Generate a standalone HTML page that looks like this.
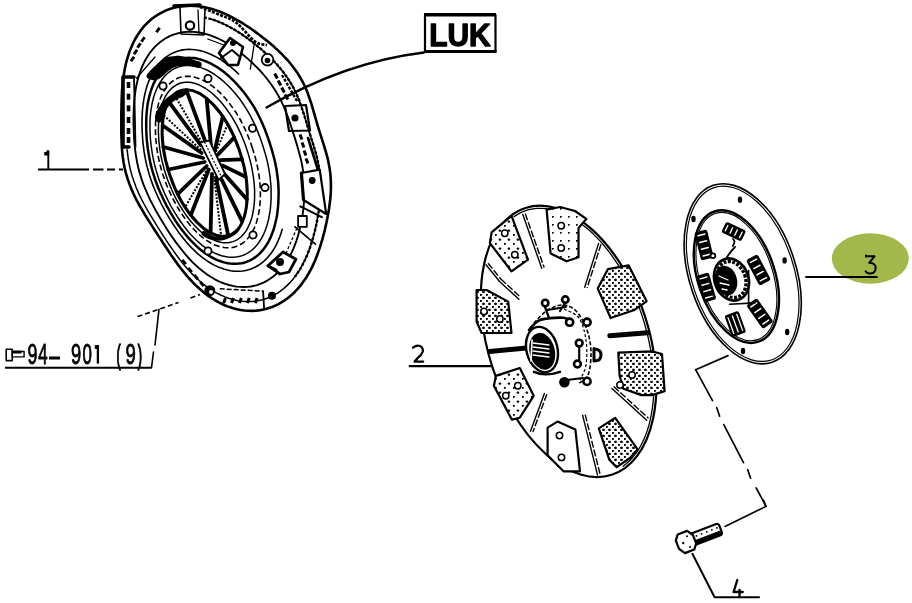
<!DOCTYPE html>
<html><head><meta charset="utf-8"><style>
html,body{margin:0;padding:0;background:#fff;width:912px;height:603px;overflow:hidden}
svg{display:block;position:absolute;left:0;top:0;will-change:transform}
</style></head><body>
<svg width="912" height="603" viewBox="0 0 912 603" fill="none" stroke="#000" stroke-linecap="round" stroke-linejoin="round">
<g id="pp">
<path d="M317.6 125.4 L319.2 130.6 L320.9 135.8 L322.6 141.1 L324.2 146.3 L325.8 151.6 L327.3 157.0 L328.5 162.4 L329.5 167.8 L330.3 173.1 L330.7 178.4 L330.9 183.7 L330.9 188.8 L330.7 193.9 L330.3 198.8 L329.7 203.7 L329.1 208.4 L328.3 213.0 L327.5 217.6 L326.6 222.0 L325.6 226.4 L324.6 230.8 L323.5 235.0 L322.4 239.2 L321.1 243.4 L319.9 247.4 L318.5 251.4 L317.1 255.3 L315.6 259.2 L314.0 262.9 L312.3 266.6 L310.5 270.1 L308.6 273.5 L306.6 276.9 L304.5 280.0 L302.3 283.1 L300.0 286.1 L297.6 288.8 L295.2 291.5 L292.6 294.0 L289.9 296.4 L287.2 298.5 L284.3 300.6 L281.4 302.4 L278.4 304.1 L275.3 305.6 L272.1 307.0 L268.9 308.1 L265.6 309.1 L262.2 309.8 L258.7 310.4 L255.2 310.7 L251.7 310.9 L248.1 310.8 L244.4 310.5 L240.8 310.0 L237.0 309.3 L233.3 308.3 L229.6 307.1 L225.8 305.7 L222.1 304.0 L218.3 302.1 L214.6 300.0 L210.9 297.6 L207.2 295.1 L203.6 292.3 L200.1 289.3 L196.6 286.1 L193.1 282.7 L189.8 279.1 L186.5 275.4 L183.4 271.6 L180.3 267.7 L177.2 263.6 L174.3 259.5 L171.4 255.4 L168.6 251.2 L165.8 247.0 L163.0 242.8 L160.3 238.6 L157.5 234.4 L154.8 230.2 L152.0 225.9 L149.3 221.6 L146.5 217.2 L143.8 212.8 L141.1 208.2 L138.4 203.5 L135.9 198.8 L133.5 193.8 L131.3 188.8 L129.3 183.6 L127.5 178.4 L125.9 173.1 L124.6 167.7 L123.6 162.4 L122.8 157.0 L122.2 151.7 L121.8 146.4 L121.6 141.2 L121.4 136.1 L121.3 131.0 L121.3 126.0 L121.3 121.0 L121.3 116.0 L121.4 111.1 L121.5 106.2 L121.6 101.2 L121.8 96.3 L122.0 91.4 L122.4 86.6 L122.9 81.8 L123.4 77.0 L124.2 72.3 L125.0 67.7 L126.0 63.2 L127.2 58.8 L128.5 54.6 L129.9 50.4 L131.6 46.5 L133.3 42.7 L135.2 39.0 L137.3 35.5 L139.5 32.3 L141.8 29.1 L144.2 26.2 L146.8 23.5 L149.4 21.0 L152.2 18.6 L155.1 16.5 L158.0 14.6 L161.1 12.8 L164.2 11.3 L167.3 9.9 L170.6 8.7 L173.9 7.8 L177.3 7.0 L180.7 6.4 L184.1 6.0 L187.6 5.8 L191.1 5.8 L194.7 5.9 L198.3 6.2 L201.8 6.7 L205.5 7.4 L209.1 8.3 L212.7 9.3 L216.4 10.5 L220.0 11.8 L223.6 13.3 L227.3 14.9 L230.9 16.7 L234.5 18.6 L238.1 20.6 L241.7 22.7 L245.3 25.0 L248.9 27.3 L252.4 29.8 L256.0 32.4 L259.6 35.0 L263.1 37.8 L266.7 40.6 L270.3 43.6 L273.8 46.6 L277.4 49.9 L280.9 53.2 L284.4 56.8 L287.9 60.5 L291.2 64.5 L294.4 68.7 L297.5 73.1 L300.4 77.8 L303.1 82.7 L305.5 87.8 L307.7 93.1 L309.6 98.5 L311.4 103.9 L313.0 109.4 L314.5 114.7 L316.1 120.1 L317.6 125.4" stroke-width="2.6" />
<path d="M210.6 19.0 L214.9 20.3 L219.1 22.0 L223.3 23.8 L227.5 25.9 L231.8 28.1 L236.0 30.6 L240.1 33.2 L244.3 36.1 L248.5 39.1 L252.6 42.2 L256.7 45.5 L260.8 49.0 L265.0 52.6 L269.0 56.4 L273.1 60.4 L277.1 64.7 L281.0 69.2 L284.8 74.1 L288.4 79.2 L291.7 84.7 L294.8 90.4 L297.5 96.4 L300.0 102.6 L302.2 108.9 L304.2 115.1 L306.1 121.4 L307.9 127.6 L309.8 133.7 L311.8 139.9 L313.7 146.0 L315.5 152.3 L317.2 158.5 L318.5 164.8 L319.6 171.1 L320.2 177.4 L320.6 183.5 L320.6 189.6 L320.4 195.4 L319.9 201.2 L319.3 206.8 L318.5 212.3 L317.6 217.7 L316.6 222.9 L315.5 228.1 L314.3 233.1 L313.0 238.1 L311.5 242.9 L310.0 247.6 L308.3 252.2 L306.5 256.6 L304.5 260.9 L302.4 265.0 L300.1 269.0 L297.7 272.8 L295.2 276.4 L292.5 279.7 L289.7 282.9 L286.7 285.9 L283.6 288.6 L280.4 291.1 L277.1 293.3 L273.6 295.3 L270.0 297.0 L266.3 298.5 L262.5 299.7 L258.6 300.6 L254.6 301.2 L250.6 301.5 L246.4 301.5 L242.2 301.2 L238.0 300.7 L233.7 299.7 L229.3 298.5 L225.0 296.9 L220.6 295.0 L216.3 292.8 L212.0 290.3 L207.7 287.4 L203.5 284.3 L199.4 280.8 L195.3 277.1 L191.3 273.1 L187.5 268.9 L183.7 264.5 L180.1 259.9 L176.6 255.2 L173.1 250.4 L169.7 245.5 L166.4 240.6 L163.2 235.6 L160.0 230.6 L156.8 225.6 L153.6 220.4 L150.4 215.2 L147.3 209.9 L144.3 204.5 L141.3 198.8 L138.6 193.1 L136.0 187.1 L133.8 181.1 L131.8 174.9 L130.1 168.6 L128.8 162.3 L127.9 156.1 L127.1 149.8" stroke-width="1.5" />
<path d="M203.9 17.3 L208.2 18.3 L212.4 19.5 L216.7 21.0 L221.0 22.8 L225.3 24.7 L229.6 26.9 L233.8 29.3 L238.1 31.9 L242.3 34.7 L246.5 37.6 L250.7 40.7 L254.9 44.0 L259.1 47.4 L263.2 51.0 L267.4 54.8 L271.5 58.8 L275.6 63.0 L279.6 67.5 L283.4 72.3 L287.1 77.4 L290.6 82.8 L293.8 88.5 L296.7 94.5 L299.3 100.7 L301.5 107.1 L303.6 113.4 L305.6 119.8 L307.5 126.0 L309.4 132.3 L311.3 138.5 L313.3 144.7 L315.2 151.0 L316.9 157.3 L318.3 163.7 L319.4 170.1 L320.2 176.4 L320.6 182.7 L320.6 188.8 L320.4 194.8 L320.0 200.6 L319.4 206.3 L318.6 211.9 L317.7 217.3 L316.7 222.7 L315.6 227.9 L314.3 233.0 L313.0 238.0 L311.5 242.9 L310.0 247.6 L308.2 252.3 L306.4 256.8 L304.4 261.1 L302.3 265.3 L300.0 269.3 L297.5 273.1 L295.0 276.7" stroke-width="2.4" stroke-dasharray="3 1.6" stroke-linecap="butt"/>
<path d="M293.4 133.4 L295.1 138.9 L296.8 144.4 L298.4 149.9 L299.9 155.5 L301.3 161.1 L302.4 166.7 L303.3 172.3 L303.9 177.8 L304.3 183.3 L304.5 188.7 L304.4 194.0 L304.2 199.2 L303.8 204.2 L303.3 209.2 L302.7 214.1 L301.9 218.9 L301.0 223.5 L300.0 228.1 L298.9 232.5 L297.7 236.9 L296.3 241.1 L294.8 245.1 L293.2 249.1 L291.5 252.9 L289.6 256.5 L287.6 259.9 L285.5 263.2 L283.2 266.3 L280.8 269.2 L278.3 272.0 L275.7 274.5 L272.9 276.8 L270.1 278.8 L267.1 280.7 L264.0 282.3 L260.9 283.7 L257.6 284.9 L254.3 285.8 L250.9 286.5 L247.4 286.9 L243.8 287.0 L240.2 286.9 L236.5 286.6 L232.8 285.9 L229.1 285.0 L225.3 283.9 L221.5 282.5 L217.8 280.8 L214.0 278.8 L210.2 276.5 L206.5 274.1 L202.8 271.3 L199.1 268.3 L195.6 265.1 L192.0 261.7 L188.6 258.0 L185.2 254.2 L182.0 250.2 L178.8 246.1 L175.6 241.9 L172.6 237.6 L169.6 233.2 L166.7 228.7 L163.8 224.1 L161.0 219.5 L158.2 214.8 L155.5 210.0 L152.9 205.1 L150.3 200.1 L147.9 194.9 L145.6 189.7 L143.4 184.4 L141.5 178.9 L139.8 173.4 L138.3 167.8 L137.1 162.2 L136.1 156.6 L135.3 151.1 L134.7 145.6 L134.2 140.1 L133.9 134.7 L133.7 129.4 L133.5 124.1 L133.5 118.9 L133.6 113.7 L133.8 108.5 L134.1 103.5 L134.5 98.5 L135.1 93.5 L135.8 88.7 L136.7 84.0 L137.8 79.4 L139.1 75.0 L140.5 70.8 L142.1 66.7 L143.9 62.8 L145.8 59.2 L147.9 55.7 L150.2 52.4 L152.6 49.4 L155.1 46.6 L157.8 44.1 L160.6 41.7 L163.5 39.7 L166.5 37.8 L169.6 36.2 L172.8 34.9 L176.0 33.8 L179.4 32.9 L182.8 32.3 L186.3 31.9 L189.8 31.7 L193.4 31.9 L197.0 32.2 L200.7 32.8 L204.4 33.6 L208.1 34.6 L211.8 35.9 L215.5 37.4 L219.2 39.0 L222.9 40.9 L226.6 43.0 L230.3 45.3 L234.0 47.8 L237.7 50.4 L241.3 53.2 L244.9 56.2 L248.5 59.4 L252.1 62.7 L255.6 66.1 L259.1 69.7 L262.6 73.5 L266.0 77.5 L269.3 81.8 L272.5 86.2 L275.6 90.9 L278.4 95.7 L281.1 100.8 L283.6 106.1 L285.8 111.5 L287.9 117.0 L289.8 122.4 L291.6 127.9 L293.4 133.4" stroke-width="1.9" />
<path d="M282.2 229.3 L281.1 233.0 L279.9 236.5 L278.5 239.9 L277.1 243.2 L275.5 246.3 L273.8 249.2 L272.0 252.0 L270.1 254.6 L268.0 257.1 L265.9 259.3 L263.7 261.4 L261.3 263.3 L258.9 265.0 L256.4 266.5 L253.8 267.8 L251.1 268.9 L248.4 269.8 L245.6 270.5 L242.7 271.0 L239.7 271.2 L236.7 271.2 L233.7 271.1 L230.6 270.7 L227.5 270.0 L224.4 269.2 L221.2 268.1 L218.0 266.9 L214.8 265.4 L211.7 263.7 L208.5 261.8 L205.3 259.6 L202.2 257.3 L199.1 254.8 L196.0 252.1 L193.0 249.2 L190.0 246.1 L187.1 242.9 L184.3 239.5 L181.5 236.0 L178.7 232.4 L176.1 228.6 L173.5 224.7 L170.9 220.8 L168.5 216.8 L166.0 212.6 L163.7 208.4 L161.4 204.1 L159.3 199.7 L157.2 195.3 L155.2 190.7 L153.3 186.1 L151.5 181.4 L149.9 176.6 L148.5 171.8 L147.2 167.0 L146.0 162.1 L145.1 157.3 L144.2 152.5 L143.6 147.7 L143.0 142.9 L142.6 138.2 L142.3 133.5 L142.1 128.9 L142.0 124.3 L142.0 119.8 L142.2 115.3 L142.4 110.9 L142.8 106.6 L143.4 102.4 L144.0 98.3 L144.8 94.3 L145.8 90.4 L146.8 86.6 L148.1 83.0 L149.4 79.6 L150.9 76.3 L152.5 73.1 L154.2 70.2 L156.1 67.4 L158.1 64.8 L160.2 62.4 L162.3 60.2 L164.6 58.2 L167.0 56.4 L169.5 54.8 L172.1 53.4 L174.7 52.2 L177.4 51.2 L180.2 50.4 L183.1 49.9 L186.0 49.5 L188.9 49.4 L191.9 49.5 L195.0 49.7 L198.1 50.2 L201.2 50.9 L204.3 51.8 L207.4 52.9 L210.6 54.2 L213.7 55.7 L216.9 57.4 L220.1 59.2 L223.2 61.3 L226.3 63.5 L229.4 65.9 L232.5 68.4 L235.6 71.1 L238.6 74.0" stroke-width="1.6" />
<path d="M269.2 141.5 L270.6 145.9 L272.0 150.4 L273.2 154.8 L274.4 159.3 L275.4 163.8 L276.3 168.3 L277.0 172.8 L277.6 177.3 L278.1 181.7 L278.4 186.1 L278.6 190.4 L278.6 194.6 L278.5 198.8 L278.3 202.9 L278.0 206.9 L277.6 210.8 L277.1 214.7 L276.4 218.4 L275.6 222.0 L274.7 225.6 L273.8 229.0 L272.6 232.2 L271.4 235.4 L270.1 238.4 L268.7 241.3 L267.1 244.0 L265.5 246.5 L263.7 248.9 L261.9 251.2 L259.9 253.3 L257.9 255.2 L255.8 256.9 L253.6 258.4 L251.3 259.8 L248.9 260.9 L246.5 261.9 L244.0 262.7 L241.4 263.3 L238.8 263.6 L236.1 263.8 L233.4 263.8 L230.6 263.6 L227.8 263.2 L225.0 262.6 L222.1 261.8 L219.2 260.8 L216.3 259.6 L213.4 258.2 L210.5 256.6 L207.6 254.8 L204.8 252.9 L201.9 250.7 L199.0 248.4 L196.2 245.9 L193.5 243.2 L190.7 240.4 L188.0 237.4 L185.4 234.3 L182.8 231.0 L180.3 227.7 L177.8 224.2 L175.4 220.6 L173.1 216.9 L170.8 213.1 L168.6 209.2 L166.4 205.3 L164.4 201.2 L162.4 197.1 L160.5 192.9 L158.6 188.7 L156.9 184.4 L155.3 180.0 L153.9 175.6 L152.5 171.1 L151.3 166.6 L150.2 162.1 L149.3 157.6 L148.5 153.1 L147.8 148.7 L147.3 144.2 L146.8 139.8 L146.5 135.5 L146.3 131.2 L146.2 126.9 L146.2 122.7 L146.3 118.6 L146.5 114.5 L146.9 110.5 L147.3 106.6 L147.9 102.8 L148.7 99.1 L149.5 95.6 L150.5 92.1 L151.6 88.8 L152.8 85.6 L154.1 82.6 L155.6 79.7 L157.2 77.0 L158.8 74.4 L160.6 72.0 L162.5 69.8 L164.5 67.8 L166.5 65.9 L168.7 64.3 L170.9 62.8 L173.2 61.5 L175.6 60.4 L178.1 59.5 L180.6 58.8 L183.2 58.3 L185.8 57.9 L188.5 57.8 L191.3 57.9 L194.0 58.1 L196.8 58.6 L199.7 59.2 L202.5 60.1 L205.4 61.1 L208.3 62.3 L211.1 63.7 L214.0 65.3 L216.9 67.0 L219.8 69.0 L222.7 71.1 L225.5 73.3 L228.3 75.7 L231.1 78.3 L233.9 81.0 L236.6 83.9 L239.3 86.9 L242.0 90.0 L244.6 93.3 L247.1 96.7 L249.6 100.2 L252.0 103.9 L254.4 107.7 L256.6 111.6 L258.7 115.7 L260.7 119.8 L262.6 124.1 L264.4 128.3 L266.1 132.7 L267.7 137.1 L269.2 141.5" stroke-width="2.5" />
<path d="M262.2 143.8 L263.5 147.9 L264.8 152.1 L266.0 156.3 L267.0 160.4 L268.0 164.6 L268.8 168.8 L269.5 173.0 L270.1 177.1 L270.5 181.2 L270.9 185.3 L271.1 189.3 L271.1 193.3 L271.1 197.2 L271.0 201.0 L270.7 204.7 L270.4 208.4 L269.9 211.9 L269.3 215.4 L268.7 218.8 L267.9 222.1 L267.0 225.2 L266.0 228.3 L264.9 231.2 L263.7 234.0 L262.4 236.6 L261.0 239.1 L259.5 241.5 L258.0 243.7 L256.3 245.8 L254.5 247.7 L252.7 249.4 L250.8 251.0 L248.8 252.4 L246.7 253.6 L244.5 254.7 L242.3 255.6 L240.0 256.3 L237.7 256.8 L235.3 257.1 L232.9 257.3 L230.4 257.3 L227.9 257.0 L225.3 256.6 L222.7 256.1 L220.1 255.3 L217.5 254.3 L214.8 253.2 L212.2 251.9 L209.5 250.4 L206.9 248.7 L204.2 246.8 L201.6 244.8 L199.0 242.6 L196.4 240.3 L193.9 237.8 L191.4 235.2 L188.9 232.4 L186.5 229.5 L184.1 226.5 L181.8 223.3 L179.5 220.0 L177.3 216.7 L175.1 213.2 L173.0 209.7 L170.9 206.1 L169.0 202.4 L167.1 198.6 L165.2 194.7 L163.5 190.8 L161.8 186.9 L160.2 182.8 L158.7 178.7 L157.4 174.6 L156.1 170.4 L155.0 166.3 L154.0 162.1 L153.1 157.9 L152.3 153.7 L151.7 149.6 L151.1 145.4 L150.7 141.3 L150.3 137.3 L150.1 133.3 L150.0 129.3 L150.0 125.4 L150.0 121.5 L150.2 117.8 L150.5 114.1 L150.9 110.5 L151.5 106.9 L152.1 103.5 L152.9 100.2 L153.7 97.0 L154.7 93.9 L155.8 91.0 L157.0 88.2 L158.3 85.5 L159.7 83.0 L161.2 80.7 L162.8 78.5 L164.5 76.4 L166.3 74.5 L168.2 72.8 L170.1 71.3 L172.2 69.9 L174.3 68.7 L176.4 67.7 L178.7 66.9 L181.0 66.2 L183.3 65.8 L185.7 65.5 L188.2 65.4 L190.6 65.5 L193.2 65.7 L195.7 66.2 L198.3 66.8 L200.9 67.6 L203.5 68.6 L206.2 69.7 L208.8 71.0 L211.4 72.5 L214.1 74.2 L216.7 76.0 L219.3 77.9 L222.0 80.1 L224.5 82.3 L227.1 84.7 L229.7 87.3 L232.2 90.0 L234.6 92.8 L237.1 95.7 L239.5 98.8 L241.8 102.0 L244.1 105.3 L246.3 108.8 L248.4 112.3 L250.5 116.0 L252.4 119.8 L254.3 123.6 L256.1 127.6 L257.7 131.6 L259.3 135.6 L260.8 139.7 L262.2 143.8" stroke-width="1.5" />
<path d="M252.1 147.2 L253.3 150.9 L254.4 154.6 L255.5 158.3 L256.4 162.0 L257.3 165.8 L258.0 169.5 L258.7 173.2 L259.2 176.9 L259.7 180.6 L260.0 184.2 L260.2 187.8 L260.4 191.4 L260.4 194.8 L260.3 198.2 L260.2 201.6 L259.9 204.8 L259.6 208.0 L259.1 211.1 L258.6 214.1 L257.9 217.0 L257.2 219.8 L256.4 222.5 L255.5 225.1 L254.5 227.6 L253.4 229.9 L252.2 232.1 L251.0 234.2 L249.6 236.2 L248.2 238.0 L246.7 239.7 L245.1 241.2 L243.5 242.5 L241.8 243.8 L240.0 244.8 L238.2 245.7 L236.3 246.5 L234.3 247.1 L232.3 247.5 L230.3 247.7 L228.2 247.8 L226.1 247.8 L223.9 247.5 L221.7 247.1 L219.5 246.6 L217.2 245.8 L214.9 245.0 L212.7 243.9 L210.4 242.7 L208.1 241.3 L205.8 239.8 L203.5 238.1 L201.2 236.3 L199.0 234.4 L196.7 232.3 L194.5 230.0 L192.3 227.7 L190.1 225.2 L188.0 222.6 L185.9 219.8 L183.9 217.0 L181.9 214.1 L179.9 211.1 L178.0 208.0 L176.2 204.8 L174.4 201.5 L172.6 198.2 L171.0 194.8 L169.4 191.3 L167.8 187.8 L166.3 184.2 L165.0 180.6 L163.7 176.9 L162.4 173.2 L161.3 169.5 L160.3 165.8 L159.4 162.0 L158.6 158.3 L157.8 154.6 L157.2 150.8 L156.7 147.2 L156.3 143.5 L155.9 139.9 L155.7 136.3 L155.5 132.8 L155.4 129.3 L155.5 125.8 L155.6 122.5 L155.8 119.2 L156.2 116.0 L156.6 112.9 L157.1 109.8 L157.7 106.9 L158.4 104.1 L159.2 101.4 L160.2 98.8 L161.2 96.3 L162.3 94.0 L163.4 91.7 L164.7 89.7 L166.1 87.7 L167.5 85.9 L169.0 84.3 L170.6 82.8 L172.2 81.4 L174.0 80.2 L175.7 79.2 L177.6 78.3 L179.5 77.6 L181.5 77.0 L183.5 76.6 L185.5 76.4 L187.6 76.3 L189.8 76.4 L191.9 76.7 L194.1 77.1 L196.4 77.7 L198.6 78.4 L200.9 79.3 L203.1 80.4 L205.4 81.6 L207.7 82.9 L210.0 84.4 L212.3 86.1 L214.6 87.9 L216.8 89.8 L219.1 91.9 L221.3 94.1 L223.5 96.4 L225.7 98.8 L227.8 101.4 L230.0 104.1 L232.0 106.9 L234.1 109.7 L236.1 112.7 L238.0 115.8 L239.9 119.0 L241.7 122.3 L243.4 125.7 L245.0 129.1 L246.6 132.7 L248.1 136.2 L249.5 139.8 L250.9 143.5 L252.1 147.2" stroke-width="1.6" stroke-dasharray="6 3" stroke-linecap="butt"/>
<path d="M246.7 149.0 L247.8 152.4 L248.8 155.9 L249.8 159.4 L250.7 162.9 L251.5 166.4 L252.2 169.9 L252.8 173.4 L253.4 176.8 L253.8 180.3 L254.2 183.7 L254.4 187.0 L254.6 190.3 L254.6 193.6 L254.6 196.8 L254.5 199.9 L254.3 202.9 L254.0 205.9 L253.6 208.8 L253.1 211.6 L252.6 214.3 L252.0 216.9 L251.2 219.4 L250.4 221.9 L249.5 224.1 L248.5 226.3 L247.5 228.4 L246.4 230.3 L245.2 232.1 L243.9 233.8 L242.5 235.3 L241.1 236.7 L239.6 238.0 L238.1 239.1 L236.4 240.1 L234.8 240.9 L233.0 241.6 L231.3 242.1 L229.4 242.5 L227.6 242.7 L225.7 242.7 L223.7 242.7 L221.8 242.4 L219.7 242.0 L217.7 241.5 L215.7 240.8 L213.6 239.9 L211.5 238.9 L209.4 237.8 L207.3 236.5 L205.2 235.0 L203.1 233.5 L201.0 231.8 L198.9 229.9 L196.9 227.9 L194.8 225.8 L192.8 223.6 L190.8 221.3 L188.8 218.8 L186.9 216.3 L185.0 213.6 L183.2 210.9 L181.4 208.0 L179.6 205.1 L177.9 202.1 L176.2 199.1 L174.6 195.9 L173.1 192.7 L171.6 189.5 L170.2 186.1 L168.8 182.8 L167.5 179.4 L166.3 176.0 L165.2 172.5 L164.1 169.0 L163.2 165.5 L162.3 162.0 L161.5 158.5 L160.8 155.0 L160.2 151.5 L159.7 148.1 L159.3 144.7 L158.9 141.3 L158.7 137.9 L158.5 134.6 L158.4 131.4 L158.4 128.2 L158.5 125.0 L158.7 122.0 L159.0 119.0 L159.3 116.1 L159.8 113.3 L160.3 110.5 L161.0 107.9 L161.7 105.4 L162.5 103.0 L163.4 100.7 L164.4 98.5 L165.4 96.4 L166.6 94.5 L167.8 92.7 L169.1 91.0 L170.4 89.5 L171.9 88.1 L173.4 86.9 L174.9 85.8 L176.5 84.8 L178.2 84.0 L179.9 83.3 L181.7 82.8 L183.6 82.5 L185.4 82.3 L187.3 82.2 L189.3 82.3 L191.3 82.6 L193.3 83.0 L195.3 83.5 L197.4 84.3 L199.4 85.1 L201.5 86.1 L203.6 87.3 L205.7 88.5 L207.8 90.0 L209.9 91.5 L212.0 93.2 L214.1 95.1 L216.1 97.0 L218.2 99.1 L220.2 101.3 L222.2 103.6 L224.2 106.0 L226.1 108.5 L228.0 111.2 L229.9 113.9 L231.7 116.7 L233.5 119.6 L235.2 122.6 L236.9 125.7 L238.5 128.9 L240.0 132.1 L241.5 135.4 L242.9 138.7 L244.2 142.1 L245.5 145.5 L246.7 149.0" stroke-width="1.5" />
<ellipse cx="204.7" cy="163.0" rx="36.9" ry="76.2" transform="rotate(-18.5 204.7 163.0)" stroke-width="3" />
<path d="M146.5 75.8 C147.1 73.3 152.7 68.2 155.8 65.2 C158.9 62.2 161.7 59.5 165.0 57.9 C168.3 56.3 172.6 56.1 175.7 55.9 C178.8 55.7 180.6 55.9 183.7 56.6 C186.8 57.3 191.4 58.9 194.3 59.9 C197.2 60.9 200.1 61.2 201.0 62.5 C201.9 63.8 202.0 67.3 200.0 67.9 C198.0 68.5 192.8 66.1 189.0 65.9 C185.2 65.7 180.3 65.7 177.0 66.5 C173.7 67.3 171.9 68.5 169.0 70.5 C166.1 72.5 162.6 76.9 159.8 78.5 C157.0 80.1 154.2 80.5 152.0 80.0 C149.8 79.5 145.9 78.3 146.5 75.8 Z" fill="#000" stroke="none" />
<path d="M155.0 119.0 C154.7 116.5 156.8 110.7 159.0 107.0 C161.2 103.3 164.5 99.7 168.0 97.0 C171.5 94.3 176.7 92.0 180.0 91.0 C183.3 90.0 187.3 90.2 188.0 91.0 C188.7 91.8 186.3 94.3 184.0 96.0 C181.7 97.7 177.0 98.7 174.0 101.0 C171.0 103.3 168.2 106.5 166.0 110.0 C163.8 113.5 162.8 120.5 161.0 122.0 C159.2 123.5 155.3 121.5 155.0 119.0 Z" fill="#000" stroke="none" />
<path d="M204.0 231.0 C206.2 231.2 211.0 235.7 215.0 236.5 C219.0 237.3 223.8 237.4 228.0 236.0 C232.2 234.6 238.7 228.3 240.0 228.0 C241.3 227.7 238.7 232.0 236.0 234.0 C233.3 236.0 228.0 239.0 224.0 240.0 C220.0 241.0 215.7 240.8 212.0 240.0 C208.3 239.2 203.3 236.5 202.0 235.0 C200.7 233.5 201.8 230.8 204.0 231.0 Z" fill="#000" stroke="none" />
<circle cx="163" cy="86" r="3.6" stroke-width="1.8" fill="#fff"/>
<circle cx="208" cy="78.5" r="3.6" stroke-width="1.8" fill="#fff"/>
<circle cx="252.5" cy="128.2" r="3.6" stroke-width="1.8" fill="#fff"/>
<circle cx="265" cy="187.6" r="3.6" stroke-width="1.8" fill="#fff"/>
<circle cx="253" cy="235" r="3.6" stroke-width="1.8" fill="#fff"/>
<circle cx="208" cy="251" r="3.6" stroke-width="1.8" fill="#fff"/>
<path d="M210.9 145.2 L206.7 99.0" stroke-width="3.8" />
<path d="M214.8 150.0 L222.7 116.9" stroke-width="3.8" />
<path d="M216.0 151.8 L227.5 124.7" stroke-width="2" stroke-dasharray="2 1.5" stroke-linecap="butt"/>
<path d="M217.8 154.8 L234.1 137.6" stroke-width="3.8" />
<path d="M220.4 160.2 L241.9 159.3" stroke-width="3.8" />
<path d="M222.3 165.4 L245.6 176.8" stroke-width="3.8" />
<path d="M223.7 173.3 L246.8 199.3" stroke-width="3.8" />
<path d="M221.5 179.4 L242.0 221.2" stroke-width="3.8" />
<path d="M216.0 177.9 L228.1 234.9" stroke-width="3.8" />
<path d="M214.1 176.3 L221.1 235.6" stroke-width="2" stroke-dasharray="2 1.5" stroke-linecap="butt"/>
<path d="M212.0 173.9 L210.6 232.3" stroke-width="3.8" />
<path d="M208.8 169.5 L190.9 214.8" stroke-width="3.8" />
<path d="M207.9 168.1 L185.3 206.9" stroke-width="2" stroke-dasharray="2 1.5" stroke-linecap="butt"/>
<path d="M206.7 166.0 L177.9 193.9" stroke-width="3.8" />
<path d="M204.7 162.0 L168.4 169.5" stroke-width="3.8" />
<path d="M203.1 158.0 L163.5 147.0" stroke-width="3.8" />
<path d="M201.6 153.0 L162.7 125.5" stroke-width="3.8" />
<path d="M201.1 150.1 L164.0 115.5" stroke-width="2" stroke-dasharray="2 1.5" stroke-linecap="butt"/>
<path d="M201.0 145.3 L168.9 101.8" stroke-width="3.8" />
<path d="M202.0 142.6 L174.5 94.8" stroke-width="2" stroke-dasharray="2 1.5" stroke-linecap="butt"/>
<path d="M205.3 141.4 L186.4 90.3" stroke-width="3.8" />
<path d="M200 142.4 L209.4 140.5 L225 174 L218.6 180 Z" stroke-width="1.8" fill="#fff"/>
<path d="M204.5 142 L221.5 177" stroke-width="1.2" stroke-dasharray="2 1.5" stroke-linecap="butt"/>
<path d="M123 77 L134 77 M123 77 L123 147 L129 147" stroke-width="3.6" />
<path d="M134 77 L135.5 147" stroke-width="1.8" />
<rect x="-1.8" y="-3.0" width="3.6" height="6" fill="#000" stroke="none" transform="translate(128.5 85) rotate(0)"/>
<rect x="-1.8" y="-3.0" width="3.6" height="6" fill="#000" stroke="none" transform="translate(128.5 96.7) rotate(0)"/>
<rect x="-1.8" y="-3.0" width="3.6" height="6" fill="#000" stroke="none" transform="translate(128.5 108.4) rotate(0)"/>
<rect x="-1.8" y="-3.0" width="3.6" height="6" fill="#000" stroke="none" transform="translate(128.5 120) rotate(0)"/>
<rect x="-1.8" y="-3.0" width="3.6" height="6" fill="#000" stroke="none" transform="translate(128.5 131) rotate(0)"/>
<rect x="-1.8" y="-3.0" width="3.6" height="6" fill="#000" stroke="none" transform="translate(128.5 140) rotate(0)"/>
<rect x="-1.5" y="-2.75" width="3" height="5.5" fill="#000" stroke="none" transform="translate(132.5 59) rotate(35)"/>
<rect x="-1.5" y="-2.75" width="3" height="5.5" fill="#000" stroke="none" transform="translate(135.5 52) rotate(35)"/>
<rect x="-1.5" y="-2.75" width="3" height="5.5" fill="#000" stroke="none" transform="translate(139 45.5) rotate(35)"/>
<rect x="-1.5" y="-2.75" width="3" height="5.5" fill="#000" stroke="none" transform="translate(143 39.5) rotate(35)"/>
<rect x="-1.5" y="-2.75" width="3" height="5.5" fill="#000" stroke="none" transform="translate(158 30) rotate(35)"/>
<path d="M136.5 78.2 L155 57" stroke-width="1.3" />
<path d="M180 7 L181 34 L204 35 L205 8" stroke-width="1.6" />
<path d="M198 10 L199 33" stroke-width="1.3" />
<circle cx="190" cy="25.5" r="4.2" stroke-width="2.2" fill="#fff"/>
<path d="M174 6 L200 5" stroke-width="3.5" />
<path d="M219 53 L230 38 L243 47 L238 65 L228 65 Z" stroke-width="2.6" fill="#fff"/>
<path d="M221 58 L232 50 L240 57" stroke-width="2" />
<circle cx="233" cy="43" r="3" fill="#000" stroke="none"/>
<path d="M207.8 39 L223.8 45" stroke-width="1.3" />
<path d="M254.3 43.8 L250.3 69" stroke-width="1.3" />
<path d="M200.0 7.0 C203.3 8.3 214.0 12.4 220.0 15.0 C226.0 17.6 230.2 18.1 236.0 22.5 C241.8 26.9 249.8 37.8 255.0 41.5 C260.2 45.2 265.0 44.4 267.0 45.0" stroke-width="2.6" stroke-dasharray="3 1.3" stroke-linecap="butt"/>
<circle cx="267.5" cy="59.7" r="5.8" stroke-width="1.8" fill="#fff"/>
<circle cx="267.5" cy="60.5" r="2.8" fill="#000" stroke="none"/>
<rect x="-1.5" y="-2.75" width="3" height="5.5" fill="#000" stroke="none" transform="translate(276 76) rotate(-30)"/>
<rect x="-1.5" y="-2.75" width="3" height="5.5" fill="#000" stroke="none" transform="translate(279.5 83) rotate(-30)"/>
<rect x="-1.5" y="-2.75" width="3" height="5.5" fill="#000" stroke="none" transform="translate(283 90) rotate(-30)"/>
<rect x="-1.5" y="-2.75" width="3" height="5.5" fill="#000" stroke="none" transform="translate(286.5 97) rotate(-30)"/>
<path d="M282 75 L297 101" stroke-width="2.4" stroke-dasharray="3 1.5" stroke-linecap="butt"/>
<path d="M285 106 L306 105 L310 130.5 L289 131 Z" stroke-width="2.2" />
<circle cx="295" cy="118" r="3.6" fill="#000" stroke="none"/>
<rect x="-1.5" y="-2.75" width="3" height="5.5" fill="#000" stroke="none" transform="translate(301 137) rotate(-20)"/>
<rect x="-1.5" y="-2.75" width="3" height="5.5" fill="#000" stroke="none" transform="translate(303 145) rotate(-20)"/>
<rect x="-1.5" y="-2.75" width="3" height="5.5" fill="#000" stroke="none" transform="translate(305 153) rotate(-20)"/>
<rect x="-1.5" y="-2.75" width="3" height="5.5" fill="#000" stroke="none" transform="translate(307 161) rotate(-20)"/>
<path d="M308 138 L318 170" stroke-width="2.6" />
<path d="M301.4 173 L319.7 169.7 L326.2 214 L303.5 200 Z" stroke-width="2.2" fill="#fff"/>
<path d="M301.4 173 L303.5 200" stroke-width="3.2" />
<circle cx="312.2" cy="180.5" r="3.4" fill="#000" stroke="none"/>
<path d="M300.3 206.4 L321.9 217.2" stroke-width="2" />
<path d="M298.1 216 L306.8 216 L306.8 226.9 L298.1 226.9 Z" stroke-width="1.8" fill="#fff"/>
<path d="M295 226.9 L315.4 244.1" stroke-width="1.8" />
<path d="M297 228 L284 258" stroke-width="1.3" stroke-dasharray="3 2" stroke-linecap="butt"/>
<path d="M268 265.7 L283 252 L296 259.2 L289 272 L280 274 Z" stroke-width="2.8" fill="#fff"/>
<circle cx="280" cy="262" r="4" fill="#000" stroke="none"/>
<path d="M268 266 L276 270" stroke-width="3" />
<path d="M219.7 288.8 L263.1 291.2" stroke-width="1.5" stroke-dasharray="5 2" stroke-linecap="butt"/>
<path d="M263.1 291.2 L264.1 308.5" stroke-width="1.8" />
<rect x="-1.5" y="-2.75" width="3" height="5.5" fill="#000" stroke="none" transform="translate(224.6 300.5) rotate(20)"/>
<rect x="-1.5" y="-2.75" width="3" height="5.5" fill="#000" stroke="none" transform="translate(232.5 300.5) rotate(20)"/>
<rect x="-1.5" y="-2.75" width="3" height="5.5" fill="#000" stroke="none" transform="translate(240.4 300.5) rotate(20)"/>
<rect x="-1.5" y="-2.75" width="3" height="5.5" fill="#000" stroke="none" transform="translate(248.3 300.5) rotate(20)"/>
<rect x="-1.5" y="-2.75" width="3" height="5.5" fill="#000" stroke="none" transform="translate(256.2 300.5) rotate(20)"/>
<circle cx="209.8" cy="290.7" r="5.5" fill="#000" stroke="none"/><circle cx="211" cy="292" r="2" fill="#fff" stroke="none"/>
<circle cx="272" cy="295.7" r="4" fill="#000" stroke="none"/>
<rect x="-1.5" y="-2.75" width="3" height="5.5" fill="#000" stroke="none" transform="translate(184 262) rotate(-40)"/>
<rect x="-1.5" y="-2.75" width="3" height="5.5" fill="#000" stroke="none" transform="translate(190 270) rotate(-40)"/>
<rect x="-1.5" y="-2.75" width="3" height="5.5" fill="#000" stroke="none" transform="translate(196 277) rotate(-40)"/>
<rect x="-1.5" y="-2.75" width="3" height="5.5" fill="#000" stroke="none" transform="translate(202 284) rotate(-40)"/>
</g>
<g id="labels">
<rect x="425" y="15" width="70.5" height="36.5" stroke-width="2.2"/>
<path d="M424 14.8 H496" stroke-width="3.4" stroke-linecap="butt"/>
<text x="429.2" y="45.5" font-family="Liberation Sans" font-weight="bold" font-size="31.8" fill="#000" stroke="#000" stroke-width="1.3" textLength="61.5" lengthAdjust="spacingAndGlyphs">LUK</text>
<path d="M424 51.5 H496.5" stroke-width="3" stroke-linecap="butt"/>
<path d="M424 52.5 Q345 62 266.5 107.5" stroke-width="2.3" />
<path d="M38 169.5 H89 M93 169.5 H103.5 M107 169.5 H115 M119 169.5 H123" stroke-width="2" stroke-linecap="butt"/>
<path d="M5 367.7 H151.5" stroke-width="2" stroke-linecap="butt"/>
<path d="M408.8 366.2 H491" stroke-width="2.2" stroke-linecap="butt"/>
<ellipse cx="870.3" cy="258.5" rx="38.5" ry="25.2" fill="#a3b84a" stroke="none"/>
<path d="M805.3 277 H877.6" stroke-width="2" stroke-linecap="butt"/>
<path d="M714.6 597.3 H759 M692.4 553.8 L714.6 597.3" stroke-width="2" />
</g>
<defs><pattern id="dots" width="6" height="6" patternUnits="userSpaceOnUse"><rect x="0" y="0" width="1.4" height="1.4" fill="#000"/><rect x="3" y="3.2" width="1.3" height="1.3" fill="#000"/></pattern><pattern id="dots3" width="8" height="8" patternUnits="userSpaceOnUse"><rect x="0" y="0" width="1.2" height="1.2" fill="#000"/></pattern><pattern id="dots2" width="9" height="9" patternUnits="userSpaceOnUse"><rect x="0" y="0" width="1.3" height="1.3" fill="#000"/><rect x="4.5" y="5" width="1.2" height="1.2" fill="#000"/></pattern></defs>
<g id="d2">
<ellipse cx="568.6" cy="341.4" rx="80.4" ry="140.2" transform="rotate(-17.9 568.6 341.4)" stroke-width="2.2" fill="#fff"/>
<path d="M514.1 216.6 L517.6 214.4 L521.2 212.4 L525.0 210.9 L528.9 209.7 L532.9 208.9 L537.0 208.4 L541.2 208.3 L545.5 208.6 L549.8 209.2 L554.2 210.2 L558.6 211.5 L563.0 213.2 L567.5 215.3 L572.0 217.7 L576.4 220.4 L580.9 223.5 L585.3 226.9 L589.6 230.6 L593.9 234.6 L598.1 238.9 L602.3 243.5 L606.3 248.4 L610.3 253.5 L614.1 258.8 L617.8 264.4 L621.4 270.2 L624.8 276.2 L628.1 282.3 L631.2 288.6 L634.2 295.1 L636.9 301.7 L639.5 308.4 L641.9 315.2 L644.1 322.1 L646.0 329.0 L647.8 335.9 L649.3 342.9 L650.7 349.9 L651.8 356.8 L652.6 363.7 L653.3 370.6 L653.7 377.3 L653.9 384.0 L653.8 390.5 L653.5 396.9 L653.0 403.2 L652.2 409.3 L651.2 415.2 L650.0 420.9 L648.6 426.3 L646.9 431.6 L645.1 436.6 L643.0 441.3 L640.7 445.8 L638.2 450.0 L635.5 453.8 L632.7 457.4 L629.7 460.7 L626.5 463.6 L623.1 466.2" stroke-width="1.3" />
<path d="M491.6 232.3 L511.5 215.8 L528.0 259.7 L511.5 271.3 L489.9 243.1 Z" fill="#fff" stroke="none"/>
<path d="M491.6 232.3 L511.5 215.8 L528.0 259.7 L511.5 271.3 L489.9 243.1 Z" fill="url(#dots2)" stroke="none"/>
<path d="M491.6 232.3 L511.5 215.8 L528.0 259.7 L511.5 271.3 L489.9 243.1 Z" stroke-width="2.2" />
<path d="M546.6 209.6 L560.0 207.0 L575.0 211.0 L586.4 218.9 L578.5 228.0 L578.5 257.3 L566.5 261.3 L550.6 253.4 Z" fill="#fff" stroke="none"/>
<path d="M546.6 209.6 L560.0 207.0 L575.0 211.0 L586.4 218.9 L578.5 228.0 L578.5 257.3 L566.5 261.3 L550.6 253.4 Z" fill="url(#dots3)" stroke="none"/>
<path d="M546.6 209.6 L560.0 207.0 L575.0 211.0 L586.4 218.9 L578.5 228.0 L578.5 257.3 L566.5 261.3 L550.6 253.4 Z" stroke-width="2.2" />
<path d="M476.6 290.0 L486.6 290.0 L508.2 301.6 L511.5 333.0 L481.6 333.0 L476.6 321.5 Z" fill="#fff" stroke="none"/>
<path d="M476.6 290.0 L486.6 290.0 L508.2 301.6 L511.5 333.0 L481.6 333.0 L476.6 321.5 Z" fill="url(#dots)" stroke="none"/>
<path d="M476.6 290.0 L486.6 290.0 L508.2 301.6 L511.5 333.0 L481.6 333.0 L476.6 321.5 Z" stroke-width="2.2" />
<path d="M608.0 269.1 L628.6 265.3 L646.6 301.3 L633.7 310.3 L610.6 318.0 L597.7 288.4 Z" fill="#fff" stroke="none"/>
<path d="M608.0 269.1 L628.6 265.3 L646.6 301.3 L633.7 310.3 L610.6 318.0 L597.7 288.4 Z" fill="url(#dots)" stroke="none"/>
<path d="M608.0 269.1 L628.6 265.3 L646.6 301.3 L633.7 310.3 L610.6 318.0 L597.7 288.4 Z" stroke-width="2.2" />
<path d="M618.3 352.7 L651.7 351.4 L662.0 354.0 L664.6 391.2 L651.7 395.1 L641.4 395.1 L623.4 388.7 L619.6 375.8 Z" fill="#fff" stroke="none"/>
<path d="M618.3 352.7 L651.7 351.4 L662.0 354.0 L664.6 391.2 L651.7 395.1 L641.4 395.1 L623.4 388.7 L619.6 375.8 Z" fill="url(#dots)" stroke="none"/>
<path d="M618.3 352.7 L651.7 351.4 L662.0 354.0 L664.6 391.2 L651.7 395.1 L641.4 395.1 L623.4 388.7 L619.6 375.8 Z" stroke-width="2.2" />
<path d="M598.8 428.4 L615.2 417.9 L637.6 449.3 L630.0 458.0 L616.7 467.2 L609.3 459.7 Z" fill="#fff" stroke="none"/>
<path d="M598.8 428.4 L615.2 417.9 L637.6 449.3 L630.0 458.0 L616.7 467.2 L609.3 459.7 Z" fill="url(#dots)" stroke="none"/>
<path d="M598.8 428.4 L615.2 417.9 L637.6 449.3 L630.0 458.0 L616.7 467.2 L609.3 459.7 Z" stroke-width="2.2" />
<path d="M547.6 427.6 L557.5 421.6 L575.4 429.6 L580.0 471.3 L563.5 471.3 L547.6 455.4 Z" fill="#fff" stroke="none"/>
<path d="M547.6 427.6 L557.5 421.6 L575.4 429.6 L580.0 471.3 L563.5 471.3 L547.6 455.4 Z" stroke-width="2.2" />
<path d="M495.9 375.9 L519.8 368.0 L533.7 395.8 L519.8 417.7 L511.8 419.6 L493.9 385.8 Z" fill="#fff" stroke="none"/>
<path d="M495.9 375.9 L519.8 368.0 L533.7 395.8 L519.8 417.7 L511.8 419.6 L493.9 385.8 Z" fill="url(#dots2)" stroke="none"/>
<path d="M495.9 375.9 L519.8 368.0 L533.7 395.8 L519.8 417.7 L511.8 419.6 L493.9 385.8 Z" stroke-width="2.2" />
<circle cx="504.8" cy="233.2" r="3.2" stroke-width="1.5" fill="#fff"/>
<circle cx="514.8" cy="254.7" r="3.2" stroke-width="1.5" fill="#fff"/>
<circle cx="561.2" cy="225.7" r="3.2" stroke-width="1.5" fill="#fff"/>
<circle cx="561.2" cy="248" r="3.2" stroke-width="1.5" fill="#fff"/>
<circle cx="484" cy="311.5" r="3.2" stroke-width="1.5" fill="#fff"/>
<circle cx="499.9" cy="319" r="3.2" stroke-width="1.5" fill="#fff"/>
<circle cx="517.8" cy="385.8" r="3.2" stroke-width="1.5" fill="#fff"/>
<circle cx="505.8" cy="395.8" r="3.2" stroke-width="1.5" fill="#fff"/>
<circle cx="559.5" cy="435.5" r="3.2" stroke-width="1.5" fill="#fff"/>
<circle cx="561.5" cy="457.4" r="3.2" stroke-width="1.5" fill="#fff"/>
<circle cx="620" cy="385" r="3.2" stroke-width="1.5" fill="#fff"/>
<circle cx="632" cy="375" r="3.2" stroke-width="1.5" fill="#fff"/>
<path d="M522.8 214.4 L541.8 268.4" stroke-width="1.4" />
<path d="M525.2 213.6 L544.2 267.6" stroke-width="1.4" stroke-dasharray="7 2" stroke-linecap="butt"/>
<path d="M598.6 243.4 L584.7 287.2" stroke-width="1.4" />
<path d="M601.0 244.2 L587.1 288.0" stroke-width="1.4" stroke-dasharray="7 2" stroke-linecap="butt"/>
<path d="M611.9 388.5 L646.7 420.3" stroke-width="1.4" />
<path d="M613.7 386.5 L648.5 418.3" stroke-width="1.4" stroke-dasharray="7 2" stroke-linecap="butt"/>
<path d="M582.6 415.2 L597.5 474.9" stroke-width="1.4" />
<path d="M585.2 414.6 L600.1 474.3" stroke-width="1.4" stroke-dasharray="7 2" stroke-linecap="butt"/>
<path d="M544.4 393.4 L530.5 431.2" stroke-width="1.4" />
<path d="M546.8 394.2 L532.9 432.0" stroke-width="1.4" stroke-dasharray="7 2" stroke-linecap="butt"/>
<path d="M499.0 281.0 L518.9 299.3" stroke-width="1.4" />
<path d="M500.8 279.0 L520.7 297.3" stroke-width="1.4" stroke-dasharray="7 2" stroke-linecap="butt"/>
<path d="M486.0 264.8 L499.0 280.8" stroke-width="1.4" />
<path d="M488.0 263.2 L501.0 279.2" stroke-width="1.4" stroke-dasharray="7 2" stroke-linecap="butt"/>
<path d="M609.8 335.8 L647.6 332.8" stroke-width="5" />
<path d="M489.9 351.4 L526.4 348" stroke-width="5" />
<path d="M529.0 330.0 C530.5 328.5 535.1 322.9 538.0 321.0 C540.9 319.1 541.9 319.2 546.1 318.7 C550.4 318.2 559.1 317.4 563.5 317.8 C567.9 318.2 570.8 320.7 572.2 321.3" stroke-width="2.6" />
<path d="M530.0 328.0 C532.5 325.3 539.7 315.8 545.0 312.0 C550.3 308.2 556.8 305.2 562.0 305.0 C567.2 304.8 571.8 306.8 576.0 311.0 C580.2 315.2 584.5 323.2 587.0 330.0 C589.5 336.8 590.8 344.5 591.0 352.0 C591.2 359.5 590.2 369.7 588.0 375.0 C585.8 380.3 579.7 382.5 578.0 384.0" stroke-width="1.6" stroke-dasharray="4 2" stroke-linecap="butt"/>
<path d="M564.0 309.0 C566.5 310.5 575.3 312.8 579.0 318.0 C582.7 323.2 584.8 332.2 586.0 340.0 C587.2 347.8 587.0 358.3 586.0 365.0 C585.0 371.7 581.0 377.5 580.0 380.0" stroke-width="1.2" stroke-dasharray="3 2" stroke-linecap="butt"/>
<path d="M533.9 371.8 Q545 377 560 371.8" stroke-width="2.4" />
<ellipse cx="542" cy="349.5" rx="15.5" ry="23" transform="rotate(-14 542 349.5)" stroke-width="2.4" fill="#fff"/>
<ellipse cx="542.2" cy="351.3" rx="12.6" ry="18.7" transform="rotate(-14 542.2 351.3)" fill="#000" stroke="none"/>
<path d="M533 343 L549 345" stroke-width="1.3" stroke="#fff"/>
<path d="M533 347 L549 349" stroke-width="1.3" stroke="#fff"/>
<path d="M533 351 L549 353" stroke-width="1.3" stroke="#fff"/>
<path d="M533 355 L549 357" stroke-width="1.3" stroke="#fff"/>
<path d="M532 340 L531 361" stroke-width="1.6" stroke="#fff"/>
<circle cx="545.2" cy="303" r="3.2" stroke-width="2.6" fill="#fff"/>
<circle cx="565.3" cy="299.6" r="3.2" stroke-width="2.6" fill="#fff"/>
<circle cx="569.6" cy="322.2" r="3.6" stroke-width="2.6" fill="#fff"/>
<circle cx="587" cy="322.2" r="3.6" stroke-width="2.6" fill="#fff"/>
<circle cx="579.2" cy="343.1" r="3.4" stroke-width="2.6" fill="#fff"/>
<circle cx="577.4" cy="364" r="3.4" stroke-width="2.6" fill="#fff"/>
<circle cx="564.4" cy="382.3" r="4" stroke-width="2.6" fill="#000"/>
<circle cx="587" cy="381.4" r="3.6" stroke-width="2.6" fill="#fff"/>
<path d="M594 348.5 L594 361 M594 349 Q601 349 601 355 Q601 361 594 361" stroke-width="3" />
<path d="M545 307 L549 318 M565 303 L560 311 M547 310 L566 307 M579.2 347 L579.2 360 M567 380 L583 378" stroke-width="2.2" />
</g>
<g id="d3">
<ellipse cx="742.7" cy="273.8" rx="53.3" ry="93.2" transform="rotate(-18.4 742.7 273.8)" stroke-width="1.6" fill="#fff"/>
<ellipse cx="742.7" cy="273.8" rx="51.0" ry="90.8" transform="rotate(-18.4 742.7 273.8)" stroke-width="1.2" />
<ellipse cx="736.4" cy="276.6" rx="38.5" ry="68.7" transform="rotate(-18.6 736.4 276.6)" stroke-width="2.4" />
<ellipse cx="736.4" cy="276.6" rx="36.3" ry="66.5" transform="rotate(-18.6 736.4 276.6)" stroke-width="1.1" />
<ellipse cx="740" cy="199.8" rx="2.2" ry="3.2" fill="#000" stroke="none"/>
<ellipse cx="693.5" cy="219" rx="2.2" ry="3.2" fill="#000" stroke="none"/>
<ellipse cx="784.6" cy="260.4" rx="2.2" ry="3.2" fill="#000" stroke="none"/>
<ellipse cx="787.2" cy="332" rx="2.2" ry="3.2" fill="#000" stroke="none"/>
<ellipse cx="743" cy="351" rx="2.2" ry="3.2" fill="#000" stroke="none"/>
<g transform="translate(733.7 231.5) rotate(25)">
<rect x="-11.0" y="-6.0" width="22" height="12" rx="2.5" fill="#000" stroke="none"/>
<path d="M-7.9 -3.0 V3.0" stroke="#fff" stroke-width="1.3"/>
<path d="M-2.6 -3.0 V3.0" stroke="#fff" stroke-width="1.3"/>
<path d="M2.6 -3.0 V3.0" stroke="#fff" stroke-width="1.3"/>
<path d="M7.9 -3.0 V3.0" stroke="#fff" stroke-width="1.3"/>
</g>
<g transform="translate(704 245) rotate(-14)">
<rect x="-6.5" y="-14.5" width="13" height="29" rx="2.5" fill="#000" stroke="none"/>
<path d="M-3.5 -10.4 H3.5" stroke="#fff" stroke-width="1.5"/>
<path d="M-3.5 -3.5 H3.5" stroke="#fff" stroke-width="1.5"/>
<path d="M-3.5 3.5 H3.5" stroke="#fff" stroke-width="1.5"/>
<path d="M-3.5 10.4 H3.5" stroke="#fff" stroke-width="1.5"/>
</g>
<g transform="translate(758.5 270) rotate(-28)">
<rect x="-6.5" y="-14.5" width="13" height="29" rx="2.5" fill="#000" stroke="none"/>
<path d="M-3.5 -10.4 H3.5" stroke="#fff" stroke-width="1.5"/>
<path d="M-3.5 -3.5 H3.5" stroke="#fff" stroke-width="1.5"/>
<path d="M-3.5 3.5 H3.5" stroke="#fff" stroke-width="1.5"/>
<path d="M-3.5 10.4 H3.5" stroke="#fff" stroke-width="1.5"/>
</g>
<g transform="translate(706.3 287.5) rotate(-16)">
<rect x="-6.5" y="-14.0" width="13" height="28" rx="2.5" fill="#000" stroke="none"/>
<path d="M-3.5 -10.0 H3.5" stroke="#fff" stroke-width="1.5"/>
<path d="M-3.5 -3.3 H3.5" stroke="#fff" stroke-width="1.5"/>
<path d="M-3.5 3.3 H3.5" stroke="#fff" stroke-width="1.5"/>
<path d="M-3.5 10.0 H3.5" stroke="#fff" stroke-width="1.5"/>
</g>
<g transform="translate(759.8 313.5) rotate(-35)">
<rect x="-6.5" y="-14.5" width="13" height="29" rx="2.5" fill="#000" stroke="none"/>
<path d="M-3.5 -10.4 H3.5" stroke="#fff" stroke-width="1.5"/>
<path d="M-3.5 -3.5 H3.5" stroke="#fff" stroke-width="1.5"/>
<path d="M-3.5 3.5 H3.5" stroke="#fff" stroke-width="1.5"/>
<path d="M-3.5 10.4 H3.5" stroke="#fff" stroke-width="1.5"/>
</g>
<g transform="translate(735.3 324) rotate(-20)">
<rect x="-7.5" y="-11.5" width="15" height="23" rx="2.5" fill="#000" stroke="none"/>
<path d="M-4.7 -8.5 V8.5" stroke="#fff" stroke-width="1.3"/>
<path d="M0.0 -8.5 V8.5" stroke="#fff" stroke-width="1.3"/>
<path d="M4.7 -8.5 V8.5" stroke="#fff" stroke-width="1.3"/>
</g>
<ellipse cx="731.5" cy="279.5" rx="17" ry="21.5" transform="rotate(-20 731.5 279.5)" stroke-width="2.6" fill="#fff"/>
<ellipse cx="731.5" cy="279.5" rx="14" ry="18.5" transform="rotate(-20 731.5 279.5)" stroke-width="3.4" stroke-dasharray="3 1.4" stroke-linecap="butt"/>
<ellipse cx="726" cy="280.5" rx="11" ry="15" transform="rotate(-15 726 280.5)" fill="#000" stroke="none"/>
<path d="M719 276 L728 280 M720 283 L729 285 M722 289 L727 290" stroke-width="1.3" stroke="#fff"/>
<circle cx="712.9" cy="255.8" r="2.4" stroke-width="1.8" fill="#fff"/>
<path d="M729.6 304.3 L755 302.9 M748.6 270.5 L748.6 302.9" stroke-width="1.6" />
<path d="M732.8 246 Q736 241 733 239 M727 257 Q731 251 735 247" stroke-width="1.8" />
</g>
<g id="txt">
<rect x="6.2" y="349.3" width="6" height="11.3" stroke-width="1.6" fill="#fff"/>
<rect x="12.3" y="351.5" width="11.8" height="5.4" stroke-width="1.4" fill="#fff"/>
<path d="M12.3 350.6 H21.5 V353.5 H12.3 Z" fill="#000" stroke="none" />
<text x="0" y="0" font-family="Liberation Sans" font-weight="normal" font-size="29.5" fill="#000"  stroke="#000" stroke-width="0.9" transform="translate(27.6 363.6) scale(0.607 1)" >9</text>
<text x="0" y="0" font-family="Liberation Sans" font-weight="normal" font-size="29.5" fill="#000"  stroke="#000" stroke-width="0.9" transform="translate(38.2 363.6) scale(0.572 1)" >4</text>
<path d="M49 358 H60" stroke-width="3" stroke-linecap="butt"/>
<text x="0" y="0" font-family="Liberation Sans" font-weight="normal" font-size="29.5" fill="#000"  stroke="#000" stroke-width="0.9" transform="translate(71 363.6) scale(0.621 1)" >9</text>
<text x="0" y="0" font-family="Liberation Sans" font-weight="normal" font-size="29.5" fill="#000"  stroke="#000" stroke-width="0.9" transform="translate(82.5 363.6) scale(0.572 1)" >0</text>
<path d="M97.9 345 V363.6" stroke-width="2.3" stroke-linecap="butt"/>
<path d="M94.8 345.2 H99 V348.8 H94.8 Z" fill="#000" stroke="none" />
<text x="0" y="0" font-family="Liberation Sans" font-weight="normal" font-size="27" fill="#000"  stroke="#000" stroke-width="1.5" transform="translate(116.5 363.6) scale(0.463 1)" >(</text>
<text x="0" y="0" font-family="Liberation Sans" font-weight="normal" font-size="29.5" fill="#000"  stroke="#000" stroke-width="0.9" transform="translate(125.4 363.6) scale(0.629 1)" >9</text>
<text x="0" y="0" font-family="Liberation Sans" font-weight="normal" font-size="27" fill="#000"  stroke="#000" stroke-width="1.5" transform="translate(137.8 363.6) scale(0.478 1)" >)</text>
<path d="M48.3 151 V169.5" stroke-width="1.9" stroke-linecap="butt"/>
<path d="M44.2 152 H49.2 V155.5 H44.2 Z" fill="#000" stroke="none" />
<path d="M46.5 150.3 H49.2 V152.5 H46.5 Z" fill="#000" stroke="none" />
<path d="M413 347.6 Q416.5 344.8 420 346 Q423.3 347.6 422.8 351.5 Q421.8 355 417.5 358.2 L414.6 361.6 H423.2" stroke-width="2.3" />
<path d="M866 256.8 V255.5 M866 256.3 H874.5 L869.2 262.8 Q875.8 262.8 875.6 268.3 Q875.3 273.8 869.5 273.6 Q866.8 273.4 865.6 271.3" stroke-width="2" />
<path d="M737.3 580 L733.6 592 H742.8 M739.5 590 V597" stroke-width="2.3" />
</g>
<g id="lead">
<path d="M151.5 367.7 L153.5 352 M155 345 L159 309.3" stroke-width="1.6" />
<path d="M137.5 316.5 L159 309.3 L178.5 302.5 M190.5 298 L200 294.5" stroke-width="1.6" stroke-dasharray="5 3" stroke-linecap="butt"/>
<path d="M728 355.6 L695.6 369.7 L712.5 400.7 M716.8 407.7 L719.6 416.2 M723.8 424.6 L743.5 462.7 M747.7 469.7 L750.6 478.2 M756.2 488 L766 506.3" stroke-width="1.7" />
<path d="M766 506.3 L725 526.5 M766 506.3 L763.5 500" stroke-width="1.6" />
<g transform="translate(686 542) rotate(-21)">
<path d="M6 -6 L34 -6 Q37 -6 37 -3 L37 3 Q37 6 34 6 L6 6 Z" stroke-width="2.2" fill="#fff"/>
<path d="M8 1.5 H36 V6 H8 Z" fill="#000" stroke="none" />
<circle cx="12.0" cy="-2" r="0.9" fill="#000" stroke="none"/>
<circle cx="17.5" cy="-2" r="0.9" fill="#000" stroke="none"/>
<circle cx="23.0" cy="-2" r="0.9" fill="#000" stroke="none"/>
<circle cx="28.5" cy="-2" r="0.9" fill="#000" stroke="none"/>
<circle cx="34.0" cy="-2" r="0.9" fill="#000" stroke="none"/>
<path d="M-9 -5 L-5 -10 L5 -10 L9 -4 L9 5 L5 10 L-5 10 L-9 4 Z" stroke-width="2.2" fill="#fff"/>
<circle cx="-3" cy="0" r="1.2" fill="#000" stroke="none"/><circle cx="3" cy="-5" r="1" fill="#000" stroke="none"/><circle cx="2" cy="6" r="1" fill="#000" stroke="none"/>
</g>
</g>
</svg>
</body></html>
